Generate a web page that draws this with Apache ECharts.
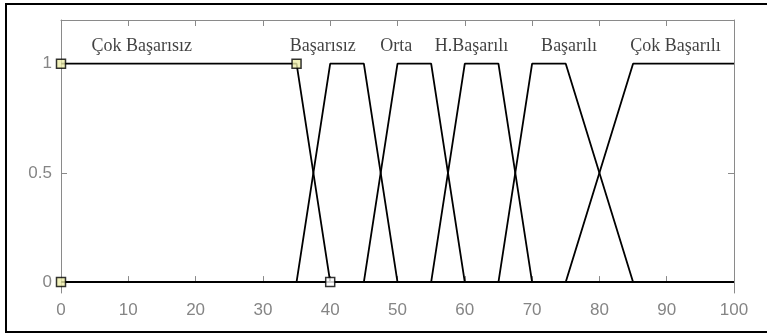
<!DOCTYPE html>
<html>
<head>
<meta charset="utf-8">
<script src="https://cdn.jsdelivr.net/npm/echarts@6/dist/echarts.min.js"></script>
<style>
html,body{margin:0;padding:0;background:#fff;}
#chart{width:767px;height:335px;}
</style>
</head>
<body>
<div id="chart"></div>
<script>
// Membership function names and their polylines (x, membership degree)
const mfNames = ['Çok Başarısız', 'Başarısız', 'Orta', 'H.Başarılı', 'Başarılı', 'Çok Başarılı'];
const cokBasarisiz = [[0, 1], [35, 1], [40, 0], [100, 0]];
const basarisiz    = [[0, 0], [35, 0], [40, 1], [45, 1], [50, 0], [100, 0]];
const orta         = [[0, 0], [45, 0], [50, 1], [55, 1], [60, 0], [100, 0]];
const hBasarili    = [[0, 0], [55, 0], [60, 1], [65, 1], [70, 0], [100, 0]];
const basarili     = [[0, 0], [65, 0], [70, 1], [75, 1], [85, 0], [100, 0]];
const cokBasarili  = [[0, 0], [75, 0], [85, 1], [100, 1]];

// Label anchor positions (x, y) for each membership function name
const labelX = [12, 38.9, 49.8, 61, 75.5, 91.3];
const labelY = [1.08, 1.08, 1.08, 1.08, 1.08, 1.08];

// Selected MF vertices (markers)
const selectedPoints = [[0, 1], [35, 1], [0, 0], [40, 0]];

// Tick labels
const xTicks = [0, 10, 20, 30, 40, 50, 60, 70, 80, 90, 100];
const yTicks = [0, 0.5, 1];

const mfData = [cokBasarisiz, basarisiz, orta, hBasarili, basarili, cokBasarili];

const axisGray = '#8a8a8a';
const labelGray = '#858585';

const lineSeries = mfData.map((d, i) => ({
  type: 'line',
  name: mfNames[i],
  data: d,
  xAxisIndex: 0, yAxisIndex: 0,
  symbol: 'none',
  lineStyle: { color: '#000', width: 1.8 },
  z: 3,
  animation: false
}));

const chart = echarts.init(document.getElementById('chart'), null, { renderer: 'canvas' });
chart.setOption({
  animation: false,
  backgroundColor: '#fff',
  grid: { left: 61, top: 20, right: 33, bottom: 42, containLabel: false },
  xAxis: [{
    type: 'value', min: 0, max: 100, interval: 10, position: 'bottom',
    axisLine: { show: true, lineStyle: { color: axisGray, width: 1 } },
    axisTick: { show: true, inside: true, length: 6, lineStyle: { color: axisGray } },
    axisLabel: { color: labelGray, fontFamily: 'Liberation Sans', fontSize: 17, margin: 9,
      customValues: xTicks },
    splitLine: { show: false }
  }, {
    type: 'value', min: 0, max: 100, interval: 10, position: 'top',
    axisLine: { show: true, onZero: false, lineStyle: { color: axisGray, width: 1 } },
    axisTick: { show: true, inside: true, length: 6, lineStyle: { color: axisGray } },
    axisLabel: { show: false },
    splitLine: { show: false }
  }],
  yAxis: [{
    type: 'value', min: -0.05, max: 1.2, position: 'left',
    axisLine: { show: true, onZero: false, lineStyle: { color: axisGray, width: 1 } },
    axisTick: { show: true, inside: true, length: 6, lineStyle: { color: axisGray }, customValues: yTicks },
    axisLabel: { color: labelGray, fontFamily: 'Liberation Sans', fontSize: 17, margin: 9, customValues: yTicks },
    splitLine: { show: false }
  }, {
    type: 'value', min: -0.05, max: 1.2, position: 'right',
    axisLine: { show: true, onZero: false, lineStyle: { color: axisGray, width: 1 } },
    axisTick: { show: true, inside: true, length: 6, lineStyle: { color: axisGray }, customValues: yTicks },
    axisLabel: { show: false },
    splitLine: { show: false }
  }],
  series: lineSeries.concat([{
    type: 'scatter',
    data: selectedPoints.map((p, i) => ({
      value: p,
      itemStyle: { color: i === 3 ? '#ffffff' : '#eeeeaa', borderColor: '#000', borderWidth: 1.5 }
    })),
    symbol: 'rect',
    symbolSize: 9,
    clip: false,
    z: 5
  }, {
    type: 'scatter',
    data: mfNames.map((n, i) => ({ name: n, value: [labelX[i], labelY[i]] })),
    symbolSize: 0,
    z: 6,
    label: {
      show: true, position: 'inside', formatter: p => p.name,
      color: '#111', fontFamily: 'Liberation Serif', fontSize: 18,
      align: 'center', verticalAlign: 'middle'
    }
  }]),
  graphic: [{
    type: 'rect',
    shape: { x: 6, y: 4, width: 780, height: 328 },
    style: { fill: 'none', stroke: '#000', lineWidth: 2 },
    silent: true, z: 10
  }]
});
</script>
</body>
</html>
